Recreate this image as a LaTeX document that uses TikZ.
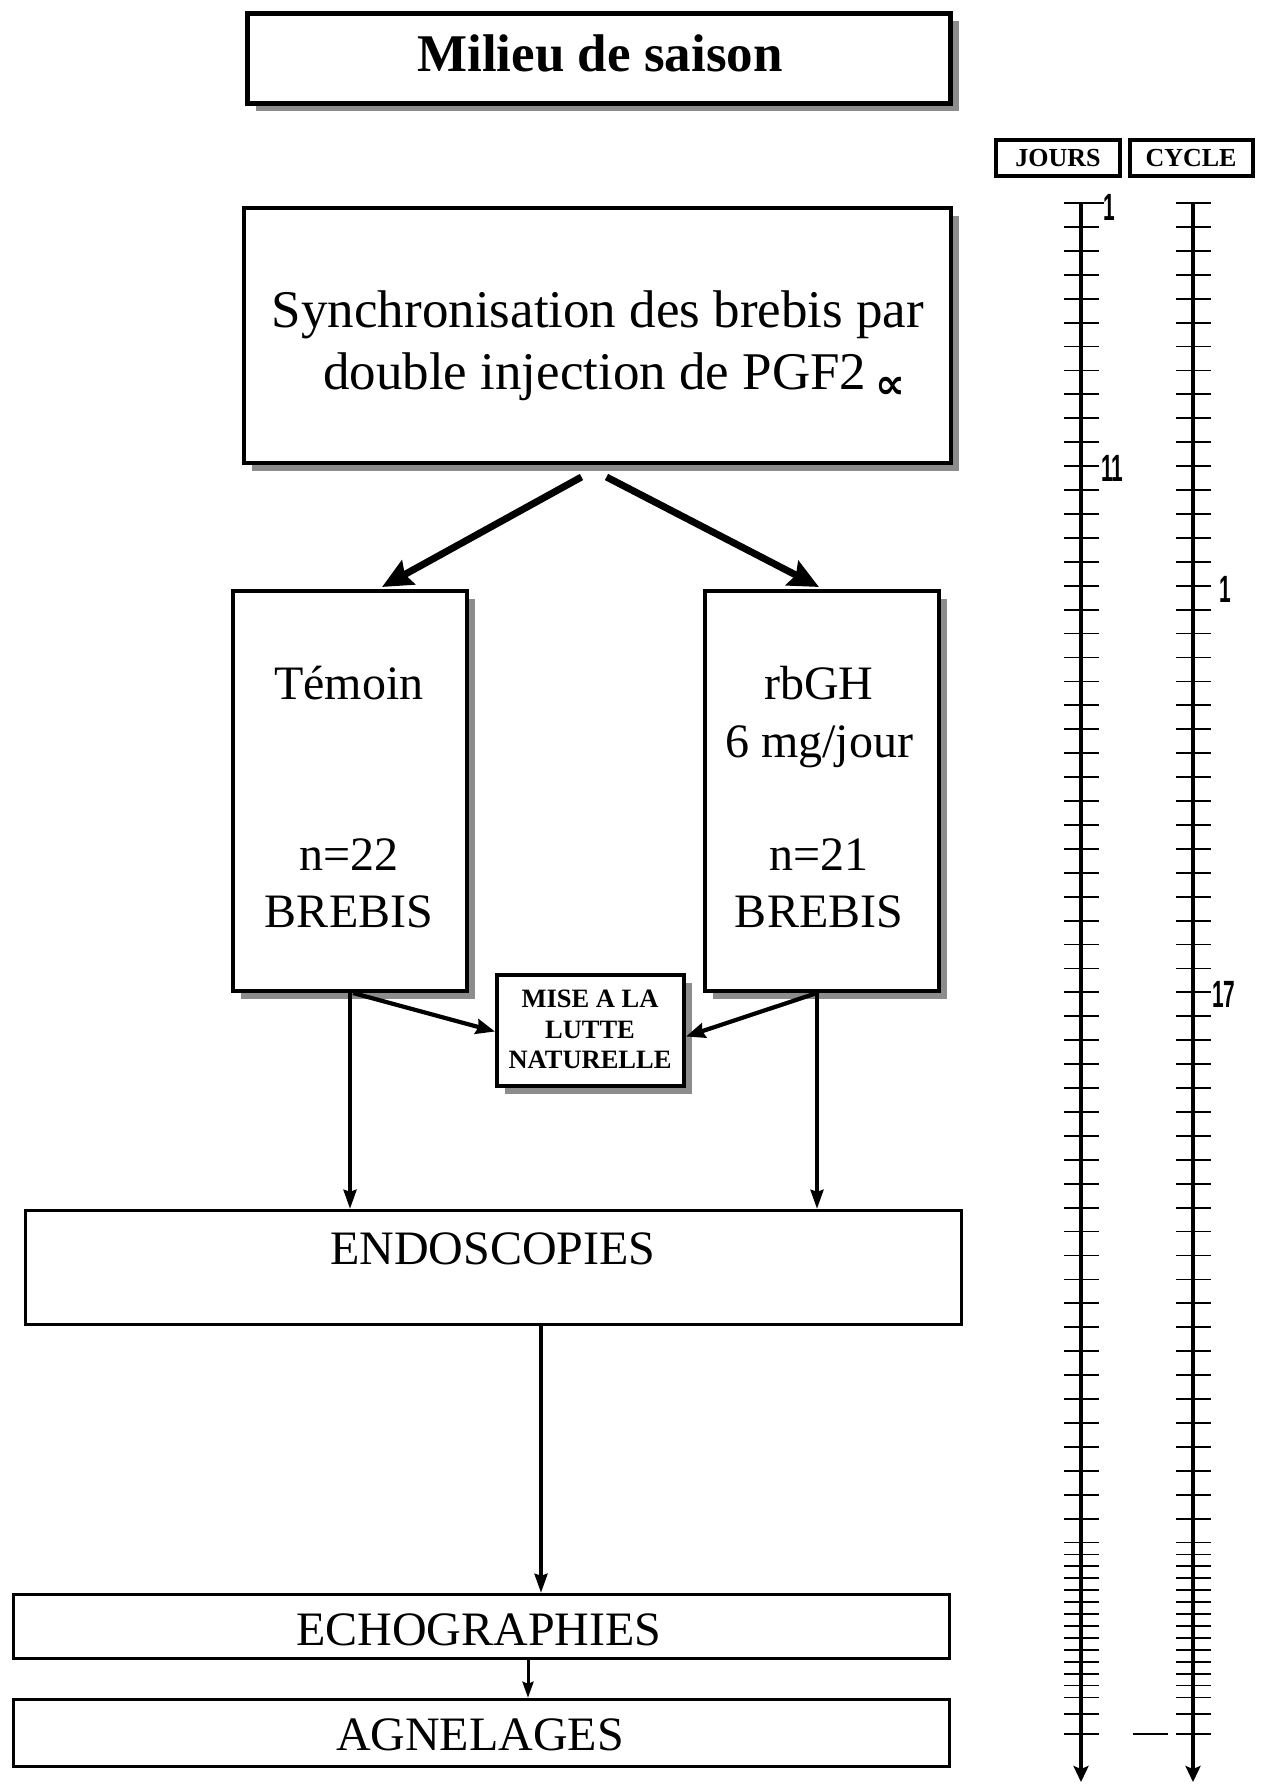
\documentclass[tikz,border=0pt]{standalone}
\usepackage{fontspec}
\setmainfont{Liberation Serif}
\newfontfamily\numfont{Liberation Sans}
\newfontfamily\symfont{DejaVu Sans}
\usetikzlibrary{arrows.meta,shadows}

\begin{document}
\begin{tikzpicture}[x=1pt,y=-1pt,
  box/.style={draw=black, fill=white, inner sep=0pt, line width=#1},
  box/.default=3.5pt,
  shadowed/.style={box=#1, drop shadow={shadow xshift=8pt, shadow yshift=-8pt, fill=black!45, opacity=1}},
  shadowed/.default=4pt,
  txt/.style={inner sep=0pt, anchor=base},
  big/.style={line width=7pt, -{Stealth[length=30pt,width=27pt,inset=4pt]}},
  mid/.style={line width=4.2pt, -{Stealth[length=19pt,width=15pt,inset=2pt]}},
  thin/.style={line width=3.4pt, -{Stealth[length=19pt,width=13pt,inset=2pt]}},
  axis/.style={line width=3.2pt, -{Stealth[length=16pt,width=15pt,inset=3pt]}},
  tickmark/.style={line width=1.8pt},
  scalelabel/.style={inner sep=0pt, anchor=west, font=\numfont\bfseries\fontsize{38}{38}\selectfont, xscale=0.55}
]
\useasboundingbox (0,0) rectangle (1263,1784);

% ---- boxes ----
\node[shadowed=5pt, minimum width=703pt, minimum height=90pt] (title) at (599,58.5) {};
\node[shadowed, minimum width=707pt, minimum height=255pt] (synch) at (597.5,335.5) {};
\node[shadowed, minimum width=234pt, minimum height=400pt] (temoin) at (350,791) {};
\node[shadowed, minimum width=234pt, minimum height=400pt] (rbgh) at (822,791) {};
\node[shadowed, minimum width=187pt, minimum height=111pt] (mise) at (590.5,1030.5) {};
\node[box, minimum width=936pt, minimum height=114pt] (endo) at (493.5,1267.5) {};
\node[box, minimum width=936pt, minimum height=64pt] (echo) at (481.5,1626.5) {};
\node[box, minimum width=936pt, minimum height=67pt] (agnel) at (481.5,1733) {};
\node[box=4pt, minimum width=124pt, minimum height=36pt] (jours) at (1058,158) {};
\node[box=4pt, minimum width=123pt, minimum height=36pt] (cycle) at (1191.5,158) {};

% ---- texts ----
\node[txt, font=\bfseries\fontsize{53}{60}\selectfont] (titletxt) at (600,72) {Milieu de saison};
\node[txt, font=\fontsize{53}{60}\selectfont] (synchA) at (598,327) {Synchronisation des brebis par};
\node[txt, font=\fontsize{53}{60}\selectfont] (synchB) at (614,389)
  {double injection de PGF2\,{\symfont\bfseries\fontsize{42}{42}\selectfont\raisebox{-9pt}{∝}}};
\node[txt, font=\fontsize{48}{56}\selectfont] (temA) at (349,699) {Témoin};
\node[txt, font=\fontsize{48}{56}\selectfont] (temB) at (349,870) {n=22};
\node[txt, font=\fontsize{48}{56}\selectfont] (temC) at (349,927) {BREBIS};
\node[txt, font=\fontsize{48}{56}\selectfont] (rbA) at (819,699) {rbGH};
\node[txt, font=\fontsize{48}{56}\selectfont] (rbB) at (819,757) {6 mg/jour};
\node[txt, font=\fontsize{48}{56}\selectfont] (rbC) at (819,870) {n=21};
\node[txt, font=\fontsize{48}{56}\selectfont] (rbD) at (819,927) {BREBIS};
\node[txt, font=\bfseries\fontsize{26.5}{30}\selectfont] (miseA) at (590,1007) {MISE A LA};
\node[txt, font=\bfseries\fontsize{26.5}{30}\selectfont] (miseB) at (590,1038) {LUTTE};
\node[txt, font=\bfseries\fontsize{26.5}{30}\selectfont] (miseC) at (590,1068) {NATURELLE};
\node[txt, font=\fontsize{48}{56}\selectfont] (endotxt) at (493,1264) {ENDOSCOPIES};
\node[txt, font=\fontsize{48}{56}\selectfont] (echotxt) at (479,1645) {ECHOGRAPHIES};
\node[txt, font=\fontsize{48}{56}\selectfont] (agneltxt) at (480,1750) {AGNELAGES};
\node[txt, font=\bfseries\fontsize{26}{30}\selectfont] (jourstxt) at (1058,167) {JOURS};
\node[txt, font=\bfseries\fontsize{26}{30}\selectfont] (cycletxt) at (1191,167) {CYCLE};

% ---- connectors ----
\draw[big] ([xshift=-16pt,yshift=-12pt]synch.south) -- ([xshift=32pt,yshift=2pt]temoin.north);
\draw[big] ([xshift=9pt,yshift=-12pt]synch.south) -- ([xshift=-3pt,yshift=2pt]rbgh.north);

\draw[thin] (temoin.south) -- (temoin.south |- endo.north);
\coordinate (rbout) at ([xshift=-5pt]rbgh.south);
\draw[thin] (rbout) -- (rbout |- endo.north);
\draw[mid] ([xshift=3pt]temoin.south) -- ([yshift=-1pt]mise.west);
\draw[mid] (rbout) -- ([yshift=-6pt]mise.east);

\coordinate (endoout) at ([xshift=47.5pt]endo.south);
\draw[thin] (endoout) -- (endoout |- echo.north);
\coordinate (echoout) at ([xshift=46.5pt]echo.south);
\draw[line width=3pt, -{Stealth[length=16pt,width=11pt,inset=2pt]}] (echoout) -- (echoout |- agnel.north);

% ---- time scales ----
\coordinate (jtop) at (1081,203);
\coordinate (jend) at (1081,1782);
\coordinate (ctop) at (1193,203);
\coordinate (cend) at (1193,1782);
\draw[axis] (jtop) -- (jend);
\draw[axis] (ctop) -- (cend);

\foreach \i in {0,...,56} {
  \draw[tickmark] (1064,{203+\i*23.92}) -- (1099,{203+\i*23.92});
  \draw[tickmark] (1176,{203+\i*23.92}) -- (1211,{203+\i*23.92});
}
\foreach \j in {1,...,13} {
  \draw[tickmark] (1064,{1542.5+\j*11.92}) -- (1099,{1542.5+\j*11.92});
  \draw[tickmark] (1176,{1542.5+\j*11.92}) -- (1211,{1542.5+\j*11.92});
}
\foreach \y in {1714,1734} {
  \draw[tickmark] (1064,\y) -- (1099,\y);
  \draw[tickmark] (1176,\y) -- (1211,\y);
}
\draw[tickmark] (1133,1734) -- (1168,1734);
\draw[tickmark] (1099,203) -- (1104,203);

\node[scalelabel] (jone) at (1103,207) {1};
\node[scalelabel] (jeleven) at (1101,468) {11};
\node[scalelabel] (cone) at (1219,589) {1};
\node[scalelabel] (cseventeen) at (1212,994) {17};
\end{tikzpicture}
\end{document}
